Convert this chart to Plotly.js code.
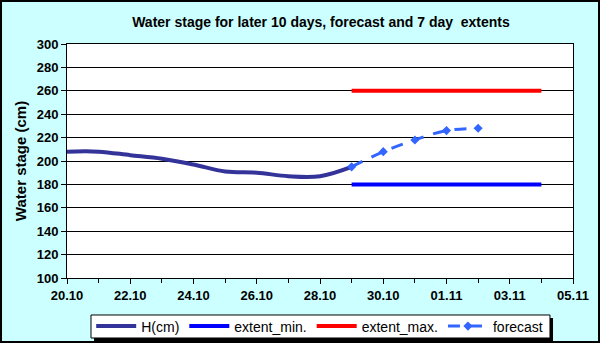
<!DOCTYPE html>
<html>
<head>
<meta charset="utf-8">
<script src="https://cdn.plot.ly/plotly-3.0.1.min.js"></script>
<style>
  body { margin: 0; }
  #graph { width: 600px; height: 343px; }
</style>
</head>
<body>
<div id="graph"></div>
<script>
// observed stage, daily
var obsDates = ['2011-10-20', '2011-10-21', '2011-10-22', '2011-10-23', '2011-10-24',
                '2011-10-25', '2011-10-26', '2011-10-27', '2011-10-28', '2011-10-29'];
var obsStage = [208, 208, 205, 202, 197, 191, 190, 187, 187, 195];

// 7 day extents
var extentDates = ['2011-10-29', '2011-11-04'];
var extentMin = [180, 180];
var extentMax = [260, 260];

// forecast
var fcDates = ['2011-10-29', '2011-10-30', '2011-10-31', '2011-11-01', '2011-11-02'];
var fcStage = [195, 208, 218, 226, 228];

function drawGraph() {
    var fam = 'Liberation Sans, Arial, sans-serif';

    var data = [
        {
            x: obsDates, y: obsStage, type: 'scatter', mode: 'lines', name: 'H(cm)',
            line: {color: '#333399', width: 4, shape: 'spline', smoothing: 1}
        },
        {
            x: extentDates, y: extentMin, type: 'scatter', mode: 'lines', name: 'extent_min.',
            line: {color: '#0000FF', width: 4}
        },
        {
            x: extentDates, y: extentMax, type: 'scatter', mode: 'lines', name: 'extent_max.',
            line: {color: '#FF0000', width: 4}
        },
        {
            x: fcDates, y: fcStage, type: 'scatter', mode: 'lines+markers', name: 'forecast',
            line: {color: '#3366FF', width: 3, dash: '12px,10px', shape: 'spline'},
            marker: {symbol: 'diamond', size: 7, color: '#3366FF'}
        }
    ];

    var layout = {
        width: 600,
        height: 343,
        paper_bgcolor: '#CCFFFF',
        plot_bgcolor: '#FFFFFF',
        font: {family: fam, size: 13, color: '#000000'},
        margin: {l: 67, r: 27, t: 44, b: 65},
        title: {
            text: '<b>Water stage for later 10 days, forecast and 7 day  extents</b>',
            font: {family: fam, size: 14, color: '#000000'},
            x: 0.535, xanchor: 'center', y: 0.935, yanchor: 'middle'
        },
        xaxis: {
            type: 'date',
            range: ['2011-10-20', '2011-11-05'],
            dtick: 2 * 86400000,
            tick0: '2011-10-20',
            tickformat: '%d.%m',
            ticks: 'outside', ticklen: 5, tickcolor: '#000000',
            minor: {dtick: 86400000, ticks: 'outside', ticklen: 4, tickcolor: '#000000', showgrid: false},
            showgrid: false, zeroline: false,
            showline: true, linecolor: '#000000', linewidth: 1, mirror: true,
            tickfont: {family: fam, size: 13, color: '#000000', weight: 'bold'},
            automargin: false
        },
        yaxis: {
            range: [100, 300],
            dtick: 20,
            ticks: 'outside', ticklen: 5, tickcolor: '#000000',
            showgrid: true, gridcolor: '#000000', gridwidth: 1,
            zeroline: false,
            showline: true, linecolor: '#000000', linewidth: 1, mirror: true,
            tickfont: {family: fam, size: 13, color: '#000000', weight: 'bold'},
            title: {text: '<b>Water stage (cm)</b>', font: {family: fam, size: 15, color: '#000000'}, standoff: 6},
            automargin: false
        },
        showlegend: true,
        legend: {
            orientation: 'h',
            xref: 'container', yref: 'container',
            x: 0.152, xanchor: 'left',
            y: 0.0481, yanchor: 'middle',
            bgcolor: 'rgba(0,0,0,0)', borderwidth: 0,
            font: {family: fam, size: 14, color: '#000000'},
            itemwidth: 40,
            tracegroupgap: 0
        },
        shapes: [
            // legend shadow
            {type: 'rect', xref: 'paper', yref: 'paper', x0: 0.0534, x1: 0.9605, y0: -0.269, y1: -0.171,
             line: {width: 0}, fillcolor: '#000000'},
            // legend box
            {type: 'rect', xref: 'paper', yref: 'paper', x0: 0.0474, x1: 0.9545, y0: -0.2564, y1: -0.1581,
             line: {color: '#000000', width: 1}, fillcolor: '#FFFFFF'},
            // outer frame
            {type: 'rect', xref: 'paper', yref: 'paper', x0: -0.1304, x1: 1.0514, y0: -0.2735, y1: 1.1838,
             line: {color: '#000000', width: 2}, fillcolor: 'rgba(0,0,0,0)'}
        ]
    };

    Plotly.newPlot('graph', data, layout, {displayModeBar: false});
}

drawGraph();
</script>
</body>
</html>
